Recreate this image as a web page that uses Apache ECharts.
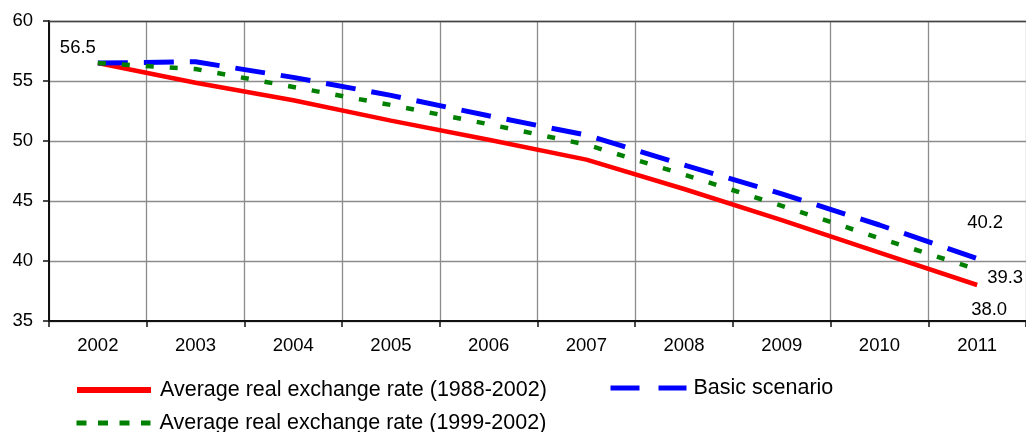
<!DOCTYPE html>
<html>
<head>
<meta charset="utf-8">
<script src="https://cdn.jsdelivr.net/npm/echarts@6/dist/echarts.min.js"></script>
<style>
  html, body { margin: 0; padding: 0; background: #fff; }
  #chart { width: 1026px; height: 432px; }
</style>
</head>
<body>
<div id="chart"></div>
<script>
// Years on the category axis
const years = ['2002', '2003', '2004', '2005', '2006', '2007', '2008', '2009', '2010', '2011'];

// Projected values for each scenario
const avgRate8802 = [56.5, 54.85, 53.4, 51.7, 50.1, 48.45, 46.0, 43.4, 40.7, 38.0];
const avgRate9902 = [56.5, 56.0, 54.5, 53.0, 51.4, 49.7, 47.2, 44.6, 41.9, 39.3];
const basicScenario = [56.5, 56.6, 55.3, 53.8, 52.1, 50.5, 48.0, 45.6, 43.0, 40.2];

// Value axis range
const yMin = 35;
const yMax = 60;
const yStep = 5;

const seriesNames = [
  'Average real exchange rate (1988-2002)',
  'Basic scenario',
  'Average real exchange rate (1999-2002)'
];

const FONT = '"Liberation Sans", Arial, Helvetica, sans-serif';

// Attach a value label to selected points of a series
function withLabels(values, labelled) {
  return values.map((v, i) => {
    if (!(i in labelled)) return v;
    return {
      value: v,
      label: {
        show: true,
        position: 'inside',
        offset: labelled[i],
        formatter: p => Number(p.value).toFixed(1),
        color: '#000',
        fontSize: 18.5,
        fontFamily: FONT
      }
    };
  });
}

const legendBase = {
  orient: 'horizontal',
  padding: 0,
  itemHeight: 10,
  selectedMode: false,
  itemStyle: { color: 'rgba(0,0,0,0)', borderWidth: 0, opacity: 0 },
  textStyle: { color: '#000', fontSize: 21.5, fontFamily: FONT, lineHeight: 24 }
};

const chart = echarts.init(document.getElementById('chart'), null, { renderer: 'canvas' });

chart.setOption({
  animation: false,
  backgroundColor: '#fff',
  grid: {
    left: 49,
    top: 21,
    width: 979,
    height: 300
  },
  legend: [
    Object.assign({}, legendBase, {
      data: [seriesNames[0]],
      left: 74, top: 378,
      itemWidth: 74,
      lineStyle: { width: 6, type: 'solid' },
      textStyle: Object.assign({}, legendBase.textStyle, { padding: [0, 0, 0, 4] })
    }),
    Object.assign({}, legendBase, {
      data: [seriesNames[1]],
      left: 608, top: 376,
      itemWidth: 76,
      lineStyle: { width: 5, type: [29, 19] },
      textStyle: Object.assign({}, legendBase.textStyle, { padding: [0, 0, 0, 2] })
    }),
    Object.assign({}, legendBase, {
      data: [seriesNames[2]],
      left: 74, top: 411,
      itemWidth: 74,
      lineStyle: { width: 5, type: [10, 11.5] },
      textStyle: Object.assign({}, legendBase.textStyle, { padding: [0, 0, 0, 4] })
    })
  ],
  xAxis: [
    {
      type: 'category',
      data: years,
      boundaryGap: true,
      axisLine: { show: true, lineStyle: { color: '#111', width: 2 } },
      axisTick: { show: true, alignWithLabel: false, length: 6, lineStyle: { color: '#111', width: 1.5 } },
      axisLabel: { color: '#000', fontSize: 18.5, fontFamily: FONT, margin: 15 },
      splitLine: { show: true, lineStyle: { color: '#8c8c8c', width: 1.3 } }
    },
    {
      // top edge of the plot frame
      type: 'category',
      data: years,
      position: 'top',
      boundaryGap: true,
      axisLine: { show: true, lineStyle: { color: '#444', width: 1.3 } },
      axisTick: { show: false },
      axisLabel: { show: false },
      splitLine: { show: false }
    }
  ],
  yAxis: {
    type: 'value',
    min: yMin,
    max: yMax,
    interval: yStep,
    axisLine: { show: true, lineStyle: { color: '#111', width: 2 } },
    axisTick: { show: true, length: 6, lineStyle: { color: '#111', width: 1.5 } },
    axisLabel: { color: '#000', fontSize: 18.5, fontFamily: FONT, margin: 16 },
    splitLine: { show: true, lineStyle: { color: '#8c8c8c', width: 1.3 } }
  },
  series: [
    {
      name: seriesNames[0],
      type: 'line',
      data: withLabels(avgRate8802, { 0: [-20, -15], 9: [12, 25] }),
      symbol: 'circle',
      symbolSize: 0,
      showSymbol: true,
      color: '#ff0000',
      lineStyle: { color: '#ff0000', width: 4.5, type: 'solid' },
      emphasis: { disabled: true },
      z: 2
    },
    {
      name: seriesNames[1],
      type: 'line',
      data: withLabels(basicScenario, { 9: [8, -36] }),
      symbol: 'circle',
      symbolSize: 0,
      showSymbol: true,
      color: '#0000ff',
      lineStyle: { color: '#0000ff', width: 5, type: [30, 16] },
      emphasis: { disabled: true },
      z: 3
    },
    {
      name: seriesNames[2],
      type: 'line',
      data: withLabels(avgRate9902, { 9: [28, 9] }),
      symbol: 'circle',
      symbolSize: 0,
      showSymbol: true,
      color: '#008000',
      lineStyle: { color: '#008000', width: 4.5, type: [8, 16] },
      emphasis: { disabled: true },
      z: 4
    }
  ]
});
</script>
</body>
</html>
